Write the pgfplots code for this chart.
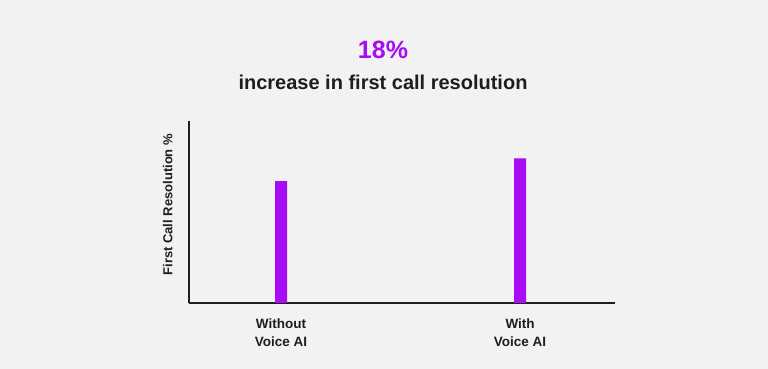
\documentclass[border=0pt]{standalone}
\usepackage{pgfplots}
\pgfplotsset{compat=1.18}
\usepackage{fontspec}
\setmainfont{Liberation Sans}
\definecolor{bg}{HTML}{F2F2F2}
\definecolor{vpurple}{HTML}{A80CF5}
\definecolor{dark}{HTML}{1E1E1E}
\begin{document}
\begin{tikzpicture}[x=1pt,y=1pt]
\fill[bg] (0,0) rectangle (768,369);
\useasboundingbox (0,0) rectangle (768,369);
\node[text=vpurple,font=\fontsize{25}{30}\selectfont\bfseries] at (383,319) {18\%};
\node[text=dark,font=\fontsize{20}{24}\selectfont\bfseries] at (383,287) {increase in first call resolution};
\begin{axis}[
  at={(189pt,66pt)}, anchor=south west,
  scale only axis, width=426pt, height=182pt,
  xmin=-0.385, xmax=1.397, ymin=0, ymax=100,
  axis x line=bottom, axis y line=left,
  axis line style={-, line width=2pt, dark},
  xtick={0,1}, xticklabels={Without\\Voice AI, With\\Voice AI},
  xticklabel style={align=center, font=\fontsize{13.5}{18}\selectfont\bfseries, text=dark, yshift=-12pt},
  major tick length=0pt,
  ytick=\empty,
  ylabel={First Call Resolution \%},
  ylabel style={font=\fontsize{13}{15}\selectfont\bfseries, text=dark, at={(axis description cs:0,0.54)}, anchor=south, yshift=13pt},
  clip=false,
]
\addplot[ybar, bar width=12pt, fill=vpurple, draw=none] coordinates {(0,67) (1,79.5)};
\end{axis}
\end{tikzpicture}
\end{document}
